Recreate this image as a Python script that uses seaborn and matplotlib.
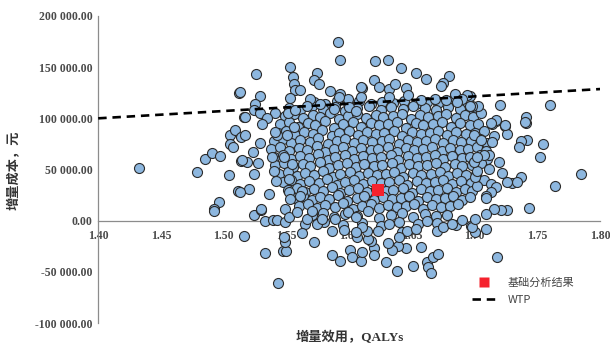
import matplotlib
matplotlib.use("Agg")
import matplotlib.pyplot as plt
import seaborn as sns
import pandas as pd
from matplotlib.lines import Line2D
from matplotlib.ticker import FuncFormatter

# ---- data: incremental QALYs (x) and incremental cost in thousand yuan (y) ----
outer_pts = [
    (1.4327, 51), (1.479, 47.4), (1.485, 59.8), (1.491, 66.3), (1.497, 63.4), (1.504, 44.8),
    (1.511, 28.7), (1.496, 18.6), (1.492, 11.5), (1.505, 83.3), (1.509, 88.9), (1.505, 74.5),
    (1.507, 71.8), (1.514, 58.8), (1.514, 81.6), (1.4925, 9.8), (1.516, -14.7), (1.5124, 125.1),
    (1.516, 101),
    (1.524, 5.9), (1.530, 10.1), (1.533, 0), (1.539, 1), (1.5425, 0.3), (1.549, -1.6), (1.549, 11.4),
    (1.552, 3.3), (1.558, 8.2), (1.566, 1.6), (1.570, 9.8), (1.574, -3.3), (1.578, 1.6),
    (1.533, -31.7), (1.547, -29.4), (1.550, -29.4), (1.549, -21.2), (1.548, -16.3), (1.562, -12.1),
    (1.572, -21.2), (1.543, -61.1), (1.586, -10.4), (1.586, -33.3), (1.593, -39.8), (1.601, -28.4),
    (1.602, -35.9), (1.596, -8.8), (1.606, -16.3), (1.589, 1.6), (1.599, 8.2), (1.605, 3.3),
    (1.6097, -39.8), (1.629, -40.8), (1.638, -49.6), (1.651, -44.4), (1.657, -26.1), (1.645, -27.1),
    (1.639, -24.5), (1.634, -28.7), (1.631, -21.9), (1.620, -26.8), (1.620, -33.3), (1.617, -19.6),
    (1.615, -18), (1.662, -40.8), (1.663, -45.7), (1.665, -51.3), (1.667, -35.9), (1.671, -32.7),
    (1.670, -9.8), (1.675, -6.5), (1.682, -3.3), (1.690, 1), (1.697, -4.9), (1.623, -9.8),
    (1.614, -9.8), (1.610, -6.5), (1.605, -11.4), (1.642, -11.4), (1.646, -9.8), (1.653, -8.2),
    (1.632, -3.3), (1.662, 0), (1.640, -16.3), (1.610, -31),
    (1.7174, -35.3), (1.7086, -8.2), (1.7006, -11.4), (1.698, -6.5), (1.743, 12.1), (1.726, 10.1),
    (1.7206, 10.1), (1.715, 11.4), (1.709, 6.5), (1.7006, 1.6),
    (1.785, 45.7), (1.7636, 34.3), (1.752, 62), (1.754, 75.1), (1.742, 78.4), (1.7365, 77.7),
    (1.735, 71.8), (1.7405, 95.4), (1.7245, 92.1), (1.7254, 84.3), (1.7166, 97.3), (1.714, 94.1),
    (1.715, 82.3), (1.714, 76.7), (1.6998, 83.3), (1.7046, 78.4), (1.737, 42.4), (1.7299, 36.6),
    (1.734, 37.5), (1.726, 37.5), (1.722, 46.7), (1.719, 57.1), (1.7112, 64.4), (1.707, 63.7),
    (1.711, 50.7), (1.707, 39.9), (1.7126, 36), (1.7166, 32.7), (1.7126, 28.4), (1.7086, 24.5),
    (1.709, 22.2), (1.702, 34.3), (1.7006, 42.4), (1.702, 49), (1.6994, 57.1), (1.702, 62),
    (1.760, 112.7), (1.720, 113.4), (1.7046, 105.5), (1.7025, 112), (1.698, 112), (1.741, 101.2),
    (1.740, 96.3), (1.7166, 98), (1.7126, 95.7), (1.7245, 93.1), (1.6966, 121.8),
    (1.6209, 155.8), (1.6307, 156.8), (1.6416, 148.7), (1.6536, 143.8), (1.6613, 138.9),
    (1.6796, 141.4), (1.6748, 134.9), (1.673, 131.3), (1.610, 130), (1.6196, 137.2), (1.6236, 130.7),
    (1.6315, 129.1), (1.6363, 134), (1.645, 130), (1.647, 122.5), (1.6095, 120.8), (1.6839, 124.2),
    (1.694, 122.5), (1.6895, 119.3), (1.6775, 118.3), (1.6687, 119.3), (1.6568, 118.3),
    (1.6966, 111.7), (1.686, 115.9), (1.6315, 120.8),
    (1.5909, 174.2), (1.5925, 157.1), (1.5531, 150.3), (1.5257, 143.1), (1.5552, 140.5),
    (1.5743, 143.8), (1.5722, 137.2), (1.5762, 133.3), (1.5557, 134), (1.5571, 128.1),
    (1.5606, 127.4), (1.5526, 119.9), (1.585, 126.4), (1.593, 124.2), (1.5988, 119.3), (1.609, 130.7),
    (1.5916, 120.8), (1.5685, 118.6), (1.5286, 121.5), (1.5252, 114.4), (1.5132, 125.7),
    (1.5239, 107.8), (1.5292, 105.5), (1.5406, 105.5), (1.5512, 105.5), (1.5565, 107.8),
    (1.5664, 112), (1.577, 113.7), (1.5876, 109.5), (1.600, 111), (1.605, 106.8), (1.5172, 101.2),
    (1.5346, 100.3),
    (1.5172, 83.3), (1.5186, 57.1), (1.5234, 67), (1.5286, 75.8), (1.5385, 62.7), (1.5199, 31),
    (1.5359, 26.1), (1.5297, 11.4), (1.5132, 27.7), (1.5239, 45.7), (1.542, 39.2), (1.5398, 49),
    (1.5146, 59.5), (1.527, 56.2), (1.5425, 83.3), (1.5305, 94.7), (1.5411, 86.5), (1.5504, 83.3),
    (1.5557, 91.4), (1.5478, 62), (1.5544, 55.5), (1.5518, 40.8), (1.5518, 27.7), (1.5531, 21.3),
    (1.5624, 29.4), (1.561, 24.5),
]

core_pts = [
    (1.572, 116), (1.581, 114), (1.590, 117), (1.599, 115), (1.608, 117), (1.617, 114), (1.626, 116),
    (1.635, 115), (1.644, 117), (1.653, 114), (1.662, 116), (1.671, 115), (1.680, 117), (1.689, 114),
    (1.552, 110), (1.561, 108), (1.570, 112), (1.579, 109), (1.589, 111), (1.597, 107), (1.606, 110),
    (1.616, 112), (1.625, 108), (1.633, 111), (1.643, 109), (1.651, 112), (1.660, 110), (1.669, 108),
    (1.679, 111), (1.688, 109), (1.697, 108),
    (1.549, 102), (1.556, 104), (1.563, 100), (1.571, 103), (1.577, 101), (1.585, 105), (1.592, 99),
    (1.599, 102), (1.606, 104), (1.613, 100), (1.621, 103), (1.627, 101), (1.635, 102), (1.642, 104),
    (1.649, 99), (1.656, 103), (1.663, 101), (1.671, 102), (1.677, 104), (1.685, 100), (1.692, 103),
    (1.699, 101),
    (1.545, 94), (1.552, 96), (1.559, 92), (1.567, 95), (1.573, 93), (1.581, 97), (1.588, 91),
    (1.595, 94), (1.603, 96), (1.609, 92), (1.617, 95), (1.624, 93), (1.631, 94), (1.638, 96),
    (1.645, 91), (1.653, 95), (1.659, 93), (1.667, 94), (1.674, 96), (1.681, 92), (1.688, 95),
    (1.696, 93), (1.703, 94),
    (1.543, 86), (1.550, 88), (1.557, 84), (1.564, 87), (1.571, 85), (1.578, 89), (1.586, 83),
    (1.592, 86), (1.600, 88), (1.607, 84), (1.614, 87), (1.621, 85), (1.628, 86), (1.636, 88),
    (1.642, 83), (1.650, 87), (1.657, 85), (1.664, 86), (1.671, 88), (1.678, 84), (1.685, 87),
    (1.693, 85), (1.700, 86), (1.707, 88),
    (1.540, 78), (1.547, 80), (1.554, 76), (1.561, 79), (1.569, 77), (1.575, 81), (1.583, 75),
    (1.590, 78), (1.597, 80), (1.604, 76), (1.611, 79), (1.618, 77), (1.626, 78), (1.632, 80),
    (1.640, 75), (1.647, 79), (1.654, 77), (1.661, 78), (1.668, 80), (1.675, 76), (1.683, 79),
    (1.689, 77), (1.697, 78), (1.704, 80), (1.710, 76),
    (1.538, 70), (1.545, 72), (1.552, 68), (1.560, 71), (1.566, 69), (1.574, 73), (1.581, 67),
    (1.588, 70), (1.595, 72), (1.602, 68), (1.609, 71), (1.617, 69), (1.623, 70), (1.631, 72),
    (1.638, 67), (1.645, 71), (1.652, 69), (1.659, 70), (1.666, 72), (1.674, 68), (1.680, 71),
    (1.688, 69), (1.695, 70), (1.702, 72), (1.709, 68),
    (1.540, 62), (1.547, 64), (1.554, 60), (1.561, 63), (1.568, 61), (1.575, 65), (1.583, 59),
    (1.589, 62), (1.597, 64), (1.604, 60), (1.611, 63), (1.618, 61), (1.625, 62), (1.633, 64),
    (1.639, 59), (1.647, 63), (1.654, 61), (1.661, 62), (1.668, 64), (1.675, 60), (1.682, 63),
    (1.690, 61), (1.696, 62), (1.704, 64), (1.710, 60),
    (1.541, 54), (1.548, 56), (1.555, 52), (1.563, 55), (1.569, 53), (1.577, 57), (1.584, 51),
    (1.591, 54), (1.598, 56), (1.605, 52), (1.612, 55), (1.620, 53), (1.626, 54), (1.634, 56),
    (1.641, 51), (1.648, 55), (1.655, 53), (1.662, 54), (1.669, 56), (1.676, 52), (1.684, 55),
    (1.690, 53), (1.698, 54), (1.705, 56),
    (1.544, 46), (1.551, 48), (1.558, 44), (1.565, 47), (1.572, 45), (1.579, 49), (1.587, 43),
    (1.593, 46), (1.601, 48), (1.608, 44), (1.615, 47), (1.622, 45), (1.629, 46), (1.636, 48),
    (1.643, 43), (1.651, 47), (1.657, 45), (1.665, 46), (1.672, 48), (1.679, 44), (1.686, 47),
    (1.693, 45), (1.701, 46),
    (1.547, 38), (1.554, 40), (1.561, 36), (1.568, 39), (1.576, 37), (1.582, 41), (1.590, 35),
    (1.597, 38), (1.604, 40), (1.611, 36), (1.618, 39), (1.625, 37), (1.632, 38), (1.640, 40),
    (1.646, 35), (1.654, 39), (1.661, 37), (1.668, 38), (1.675, 40), (1.682, 36), (1.689, 39),
    (1.697, 37),
    (1.551, 30), (1.558, 32), (1.565, 28), (1.572, 31), (1.579, 29), (1.586, 33), (1.593, 27),
    (1.600, 30), (1.607, 32), (1.614, 28), (1.621, 31), (1.629, 29), (1.635, 30), (1.643, 32),
    (1.650, 27), (1.657, 31), (1.664, 29), (1.671, 30), (1.678, 32), (1.685, 28), (1.692, 31),
    (1.698, 29),
    (1.556, 22), (1.563, 24), (1.570, 20), (1.577, 23), (1.584, 21), (1.591, 25), (1.598, 19),
    (1.606, 22), (1.612, 24), (1.620, 20), (1.627, 23), (1.634, 21), (1.641, 22), (1.648, 24),
    (1.655, 19), (1.662, 23), (1.669, 21), (1.676, 22), (1.683, 24), (1.690, 20), (1.696, 23),
    (1.560, 14), (1.567, 16), (1.574, 12), (1.581, 15), (1.589, 13), (1.595, 17), (1.603, 11),
    (1.610, 14), (1.617, 16), (1.624, 12), (1.631, 15), (1.638, 13), (1.645, 14), (1.652, 16),
    (1.659, 11), (1.666, 15), (1.673, 13), (1.680, 14), (1.687, 16),
    (1.570, 6), (1.579, 8), (1.588, 4), (1.597, 7), (1.606, 5), (1.615, 9), (1.624, 3), (1.633, 6),
    (1.642, 8), (1.651, 4), (1.660, 7), (1.669, 5), (1.678, 6),
    (1.565, -3), (1.580, -1), (1.595, -4), (1.610, -2), (1.625, -5), (1.640, -1), (1.655, -3),
    (1.670, -2), (1.685, -4),
]

base_x = [1.623]
base_y = [30000]
wtp_x = [1.40, 1.80]
wtp_y = [100000, 128600]
x_ticks = [1.40, 1.45, 1.50, 1.55, 1.60, 1.65, 1.70, 1.75, 1.80]
y_ticks = [-100000, -50000, 0, 50000, 100000, 150000, 200000]
legend_labels = ["基础分析结果", "WTP"]
x_label = "增量效用，QALYs"
y_label = "增量成本，元"

# ---- build frame ----
pts = core_pts + outer_pts
df = pd.DataFrame({"dq": [p[0] for p in pts], "dc": [p[1] * 1000 for p in pts]})

sns.set_theme(style="white")
plt.rcParams["font.family"] = ["Liberation Serif", "Noto Sans CJK SC", "DejaVu Sans"]

fig = plt.figure(figsize=(6.10, 3.47), dpi=100)
ax = fig.add_axes([0.161, 0.069, 0.823, 0.885])

sns.scatterplot(data=df, x="dq", y="dc", ax=ax, s=52, color="#8DB7DF",
                edgecolor="#2b2b2b", linewidth=0.8, zorder=3, legend=False)
sns.lineplot(x=wtp_x, y=wtp_y, ax=ax, color="black", lw=1.9, zorder=4)
ax.lines[-1].set_dashes((3.2, 2.2))
sns.scatterplot(x=base_x, y=base_y, ax=ax, marker="s", s=70, color="#F5222D",
                edgecolor="none", zorder=5, legend=False)

ax.set_xlim(1.40, 1.80)
ax.set_ylim(-100000, 200000)
ax.set_xticks(x_ticks)
ax.set_yticks(y_ticks)
ax.xaxis.set_major_formatter(FuncFormatter(lambda v, p: f"{v:.2f}"))
ax.yaxis.set_major_formatter(FuncFormatter(lambda v, p: f"{v:,.2f}".replace(",", " ")))
ax.set_xlabel("")
ax.set_ylabel("")

for s in ["top", "right"]:
    ax.spines[s].set_visible(False)
ax.spines["bottom"].set_position(("data", 0))
for s in ["bottom", "left"]:
    ax.spines[s].set_color("#8c8c8c")
    ax.spines[s].set_linewidth(0.9)
    ax.spines[s].set_zorder(1)

ax.tick_params(axis="both", direction="in", length=3.5, width=0.8, color="#8c8c8c",
               labelsize=8.5, labelcolor="#4a4a4a")
ax.tick_params(axis="x", pad=7)
ax.tick_params(axis="y", pad=4)
for lab in ax.get_xticklabels() + ax.get_yticklabels():
    lab.set_fontweight("bold")

fig.text(0.574, 0.026, x_label, ha="center", va="center", fontsize=9.5,
         fontweight="bold", color="#333333")
fig.text(0.024, 0.51, y_label, ha="center", va="center", rotation=90, fontsize=9.5,
         fontweight="bold", color="#333333")

handles = [
    Line2D([0], [0], marker="s", linestyle="none", markersize=6.5, markerfacecolor="#F5222D",
           markeredgecolor="none"),
    Line2D([0], [0], color="black", lw=1.9, dashes=(3.2, 2.2)),
]
leg = fig.legend(handles, legend_labels, loc="upper left",
                 bbox_to_anchor=(0.757, 0.228), frameon=False, handlelength=2.2,
                 handletextpad=1.0, labelspacing=0.6,
                 prop={"family": ["Noto Sans CJK SC", "DejaVu Sans"], "size": 8})
for t in leg.get_texts():
    t.set_color("#444444")

fig.savefig("out.png", dpi=100)
